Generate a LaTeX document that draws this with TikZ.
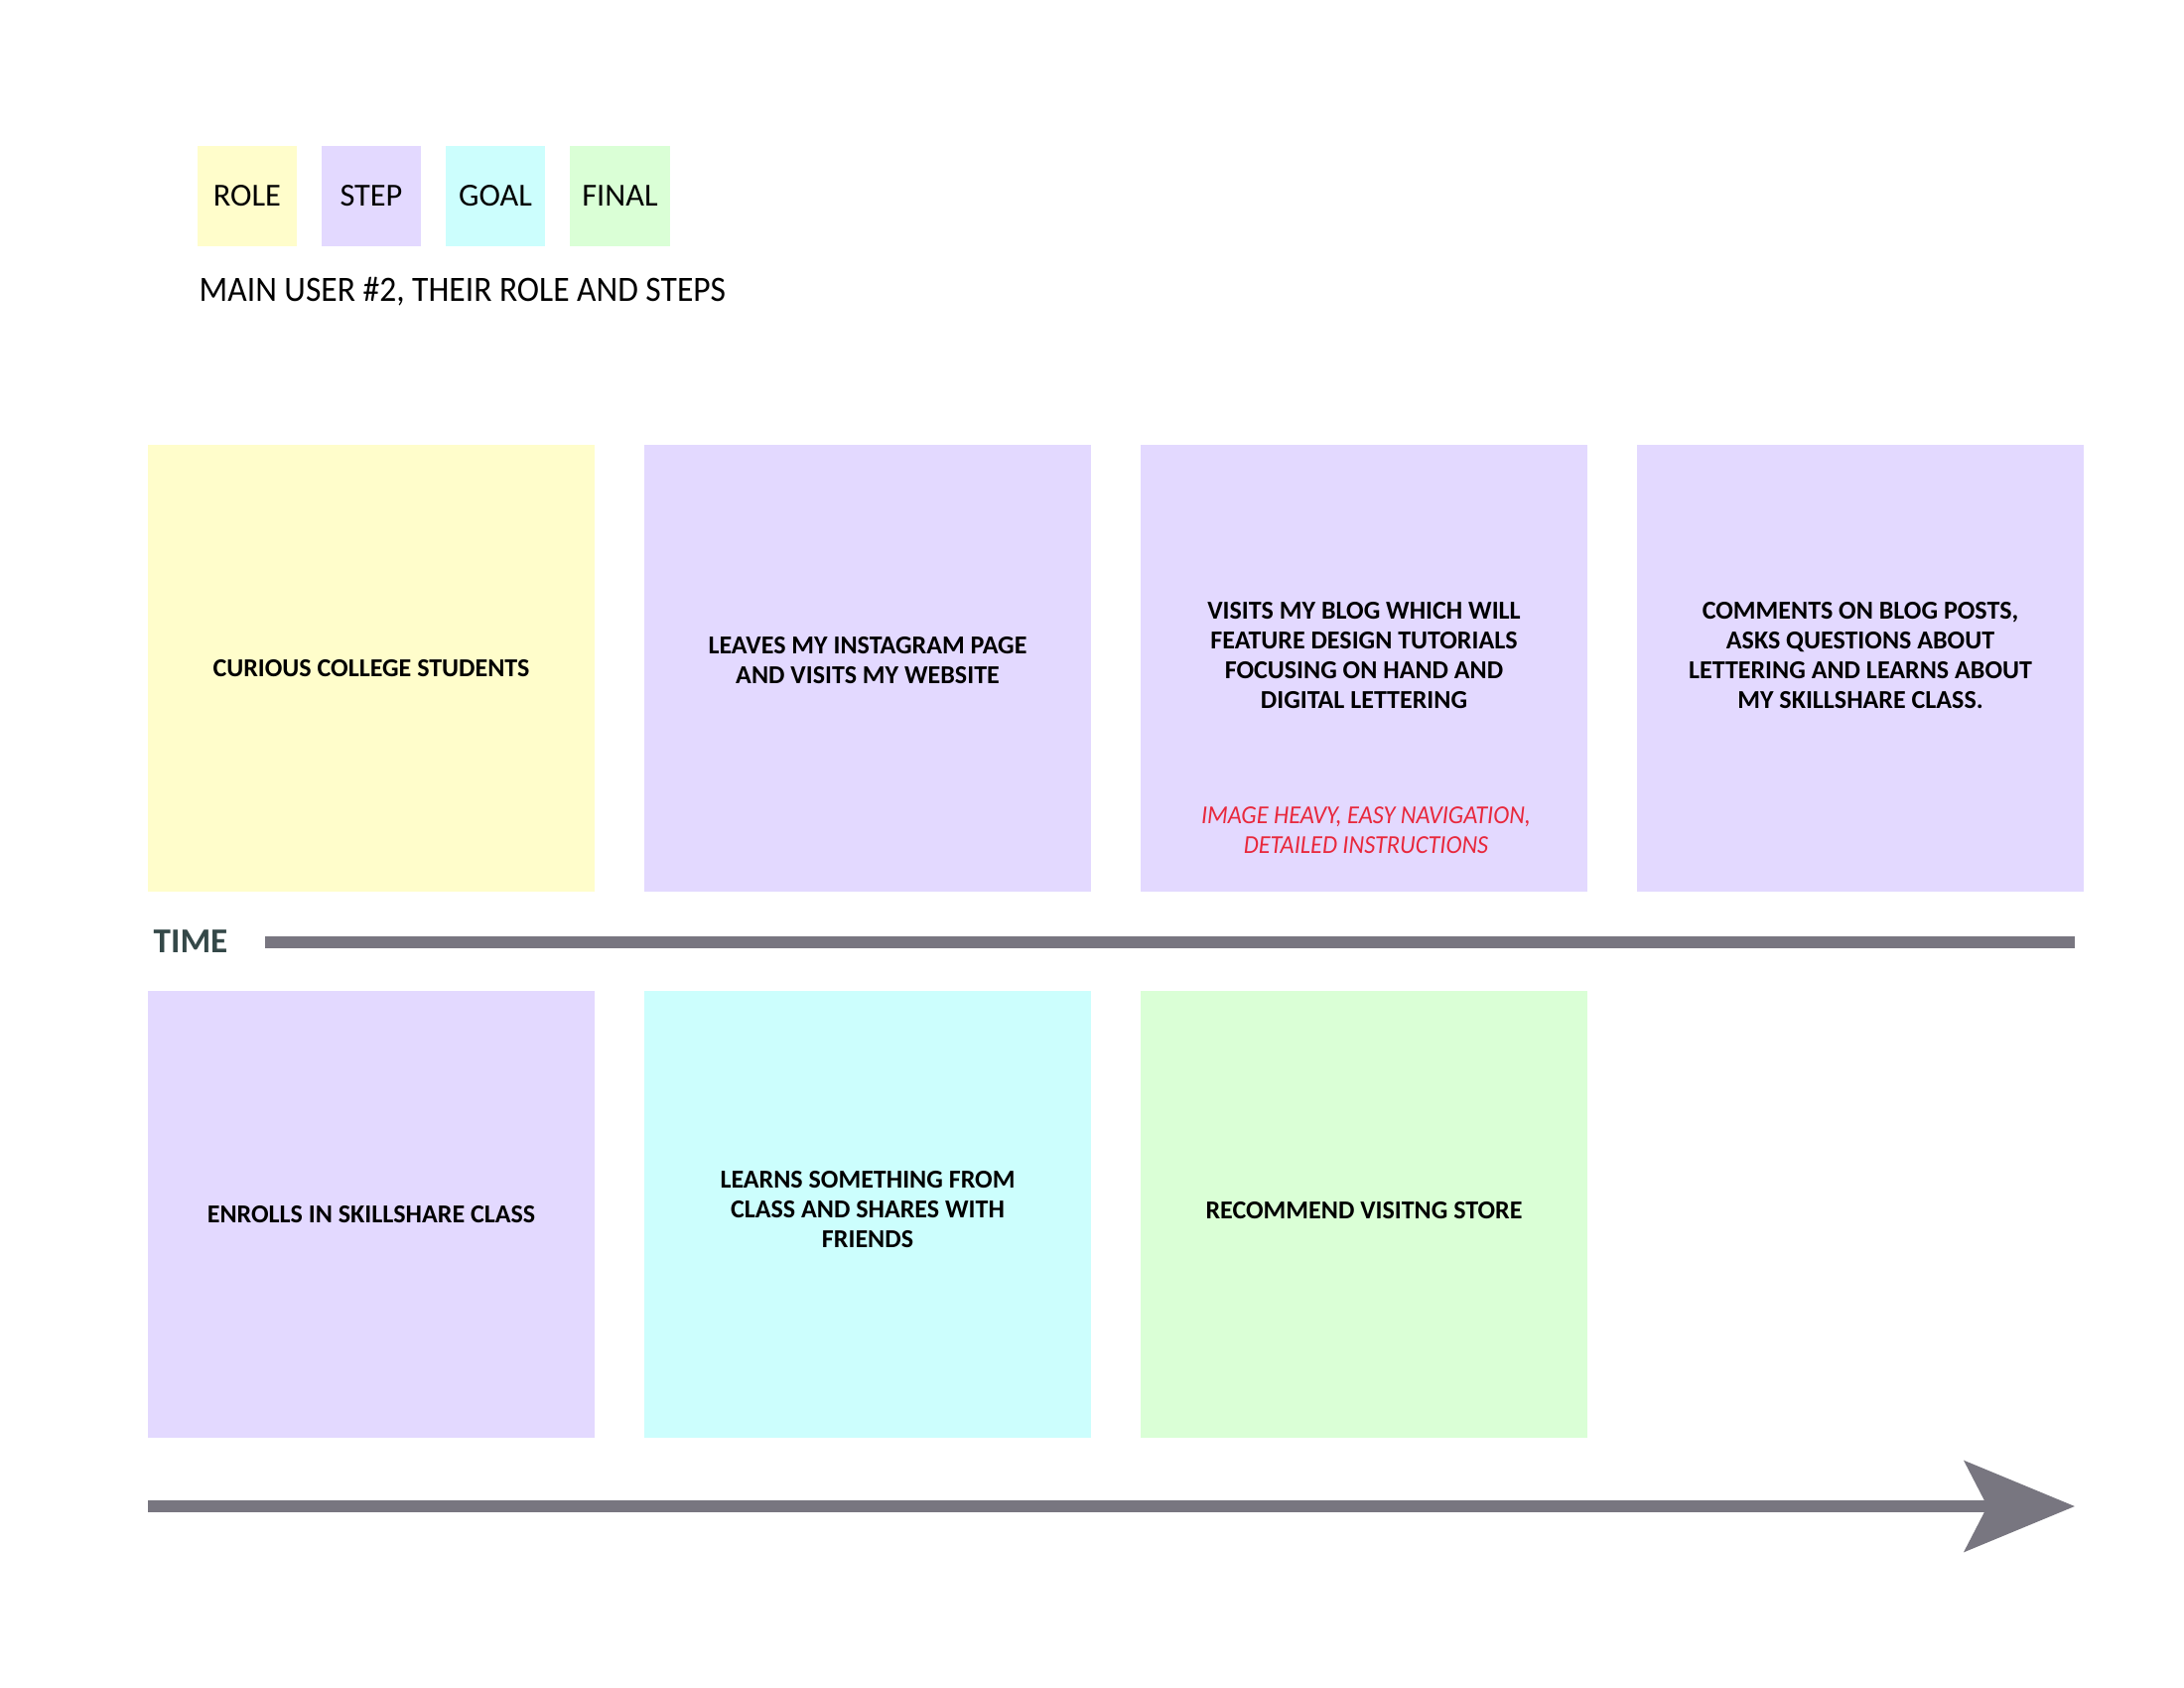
\documentclass[tikz,border=0pt]{standalone}
\usepackage{fontspec}
\setmainfont{Carlito}
\newfontfamily\narrowfont{Carlito}[FakeStretch=0.935]
\usetikzlibrary{arrows.meta}

\definecolor{roleyellow}{RGB}{255,253,203}
\definecolor{steppurple}{RGB}{227,217,255}
\definecolor{goalcyan}{RGB}{204,254,253}
\definecolor{finalgreen}{RGB}{218,255,214}
\definecolor{timegray}{RGB}{120,118,128}
\definecolor{timetext}{RGB}{52,72,72}
\definecolor{noteRed}{RGB}{232,40,60}

\tikzset{
	card/.style={minimum width=4.5cm, minimum height=4.5cm, inner sep=0pt},
	rolebox/.style={card, fill=roleyellow},
	stepbox/.style={card, fill=steppurple},
	goalbox/.style={card, fill=goalcyan},
	finalbox/.style={card, fill=finalgreen},
	keybox/.style={minimum width=1cm, minimum height=1cm, inner sep=0pt, font=\fontsize{9.2}{11}\selectfont},
	cardtext/.style={align=center, inner sep=0pt, font=\bfseries\fontsize{7.4}{8.6}\selectfont},
	timeline/.style={draw=timegray, line width=0.115cm}
}

\begin{document}
\begin{tikzpicture}[x=0.01cm, y=-0.01cm]
		\useasboundingbox (0,0) rectangle (2200,1700);

		% legenda
		\node[keybox, fill=roleyellow] (kRole) at (249,197.5) {ROLE};
		\node[keybox, fill=steppurple] (kStep) at (374,197.5) {STEP};
		\node[keybox, fill=goalcyan] (kGoal) at (499,197.5) {GOAL};
		\node[keybox, fill=finalgreen] (kFinal) at (624.5,197.5) {FINAL};
		\node[anchor=base west, inner sep=0pt, font=\narrowfont\fontsize{10.2}{12}\selectfont] (title) at (200,303) {MAIN USER \#2, THEIR ROLE AND STEPS};

		% prima riga
		\node[rolebox] (role) at (374,673) {};
		\node[cardtext] (roleT) at (374,673) {CURIOUS COLLEGE STUDENTS};

		\node[stepbox] (stepA) at (874,673) {};
		\node[cardtext] (stepAT) at (874,665) {LEAVES MY INSTAGRAM PAGE\\AND VISITS MY WEBSITE};

		\node[stepbox] (stepB) at (1374,673) {};
		\node[cardtext] (stepBT) at (1374,660) {VISITS MY BLOG WHICH WILL\\FEATURE DESIGN TUTORIALS\\FOCUSING ON HAND AND\\DIGITAL LETTERING};
		\node[align=center, inner sep=0pt, text=noteRed, font=\narrowfont\itshape\fontsize{7.4}{8.6}\selectfont] (stepBNote) at (1376,836) {IMAGE HEAVY, EASY NAVIGATION,\\DETAILED INSTRUCTIONS};

		\node[stepbox] (stepC) at (1874,673) {};
		\node[cardtext] (stepCT) at (1874,660) {COMMENTS ON BLOG POSTS,\\ASKS QUESTIONS ABOUT\\LETTERING AND LEARNS ABOUT\\MY SKILLSHARE CLASS.};

		% linea del tempo
		\node[anchor=west, inner sep=0pt, text=timetext, font=\bfseries\fontsize{10}{12}\selectfont] (time) at (154,948) {TIME};
		\coordinate (tStart) at (267,949);
		\coordinate (tEnd) at (2090,949);
		\draw[timeline] (tStart) -- (tEnd);

		% seconda riga
		\node[stepbox] (stepD) at (374,1223) {};
		\node[cardtext] (stepDT) at (374,1223) {ENROLLS IN SKILLSHARE CLASS};

		\node[goalbox] (goal) at (874,1223) {};
		\node[cardtext] (goalT) at (874,1218) {LEARNS SOMETHING FROM\\CLASS AND SHARES WITH\\FRIENDS};

		\node[finalbox] (final) at (1374,1223) {};
		\node[cardtext] (finalT) at (1374,1219) {RECOMMEND VISITNG STORE};

		% freccia
		\coordinate (aStart) at (149,1517);
		\coordinate (aEnd) at (2090,1517);
		\draw[timeline, -{Stealth[length=1.11cm, width=0.91cm, inset=0.23cm, fill=timegray]}] (aStart) -- (aEnd);
	\end{tikzpicture}
\end{document}
